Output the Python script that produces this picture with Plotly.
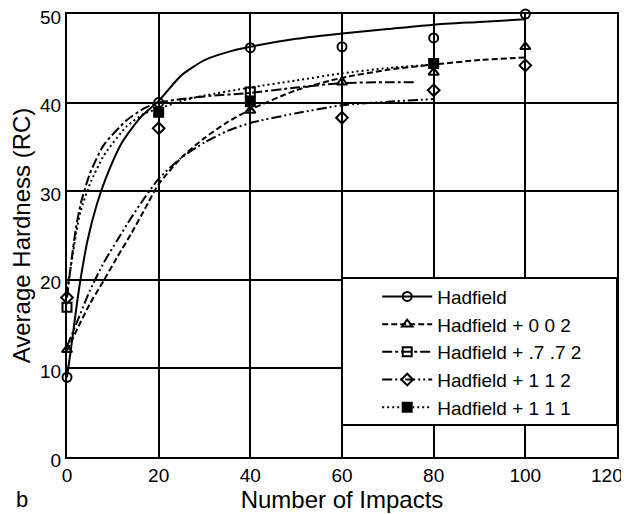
import plotly.graph_objects as go

# ---- data ----
series_names = ["Hadfield", "Hadfield + 0 0 2", "Hadfield + .7 .7 2", "Hadfield + 1 1 2", "Hadfield + 1 1 1"]

# measured points
had_x = [0, 20, 40, 60, 80, 100]
had_y = [9, 40, 46.2, 46.3, 47.3, 50]
s002_x = [0, 40, 60, 80, 100]
s002_y = [12.1, 39.1, 42.3, 43.4, 46.3]
s772_x = [0, 40]
s772_y = [16.9, 41.2]
s112_x = [0, 20, 60, 80, 100]
s112_y = [18, 37.1, 38.3, 41.4, 44.2]
s111_x = [20, 40, 80]
s111_y = [38.9, 40.1, 44.4]

# fitted curves
had_cx = [0, 1, 2, 3, 4.5, 6.5, 8.5, 12, 16, 20, 25, 30, 35, 40, 50, 60, 70, 80, 90, 100]
had_cy = [9, 12.7, 16.7, 20.2, 24.5, 28.5, 31.5, 35.5, 38.3, 40.2, 43.1, 44.8, 45.7, 46.3, 47.2, 47.8, 48.3, 48.8, 49.1, 49.4]
c002_x = [0, 2, 5, 8, 11, 14, 17, 20, 25, 30, 35, 40, 50, 60, 70, 80, 90, 100]
c002_y = [12, 14.2, 17.3, 19.9, 22.6, 25.2, 28, 30.8, 33.8, 36, 37.8, 39.2, 41.4, 42.8, 43.7, 44.3, 44.8, 45.1]
c772_x = [0, 1, 2, 3, 5, 8, 13, 17, 20, 25, 30, 40, 50, 60, 70, 76]
c772_y = [18, 22.3, 26, 28.6, 32, 35.2, 38, 39.4, 40, 40.4, 40.7, 41.1, 41.7, 42.2, 42.3, 42.3]
c112_x = [0, 2, 5, 8, 11, 14, 17, 20, 25, 30, 35, 40, 50, 60, 70, 80]
c112_y = [12.5, 15, 18.8, 21.9, 24.5, 27, 29.3, 31.4, 33.8, 35.5, 36.8, 37.7, 38.8, 39.7, 40.1, 40.4]
c111_x = [0, 1, 2, 3, 5, 8, 13, 17, 20, 25, 30, 40, 50, 60, 70, 80]
c111_y = [19, 22, 25.3, 27.8, 30.8, 34, 37.3, 38.8, 39.3, 40.2, 40.8, 41.7, 42.5, 43.3, 43.9, 44.3]

x_ticks = [0, 20, 40, 60, 80, 100, 120]
x_ticktext = ["0", "20", "40", "60", "80", "100", ""]   # last label drawn right-aligned below (window edge)
x_last_label = "120"
y_ticks = [0, 10, 20, 30, 40, 50]

styles = [
    dict(dash="solid", symbol="circle-open"),
    dict(dash="6px,3px", symbol="triangle-up-open"),
    dict(dash="10px,3px,3px,3px", symbol="square-open"),
    dict(dash="10px,3px,2px,3px,2px,3px", symbol="diamond-open"),
    dict(dash="2px,3px", symbol="square"),
]
curves = [(had_cx, had_cy), (c002_x, c002_y), (c772_x, c772_y), (c112_x, c112_y), (c111_x, c111_y)]
points = [(had_x, had_y), (s002_x, s002_y), (s772_x, s772_y), (s112_x, s112_y), (s111_x, s111_y)]

FONT = "Liberation Sans, Arial, Helvetica, sans-serif"
fig = go.Figure()
for i, name in enumerate(series_names):
    st = styles[i]
    cx, cy = curves[i]
    px_, py_ = points[i]
    fig.add_trace(go.Scatter(x=cx, y=cy, mode="lines", line=dict(color="black", width=2, dash=st["dash"], shape="spline", smoothing=0.6),
                             showlegend=False, legendgroup=f"g{i}", hoverinfo="skip"))
    fig.add_trace(go.Scatter(x=px_, y=py_, mode="markers", cliponaxis=False,
                             marker=dict(symbol=st["symbol"], size=9, color="black", line=dict(color="black", width=2)),
                             showlegend=False, legendgroup=f"g{i}"))
    fig.add_trace(go.Scatter(x=[None], y=[None], mode="lines+markers", name=name, legendgroup=f"g{i}",
                             line=dict(color="black", width=2, dash=st["dash"]),
                             marker=dict(symbol=st["symbol"], size=9, color="black", line=dict(color="black", width=2))))

fig.add_shape(type="rect", xref="x", yref="y", x0=60, x1=120, y0=3.6, y1=20.2,
              fillcolor="white", line=dict(color="black", width=2), layer="above")

fig.add_annotation(text=x_last_label, xref="x", yref="y", x=x_ticks[-1], y=0, xanchor="right", yanchor="middle",
                   xshift=8, yshift=-18, showarrow=False, font=dict(family=FONT, size=19, color="black"))

fig.add_annotation(text="b", xref="paper", yref="paper", x=-0.082, y=-0.128, xanchor="center", yanchor="bottom",
                   showarrow=False, font=dict(family=FONT, size=22, color="black"))

# the page body has an 8px margin, so the figure is sized/offset to fit the 629x514 window
fig.update_layout(
    width=621, height=506,
    margin=dict(l=59, r=12, t=6, b=57),
    paper_bgcolor="white", plot_bgcolor="white",
    font=dict(family=FONT, color="black"),
    legend=dict(x=0.564, y=0.405, xanchor="left", yanchor="top", bgcolor="rgba(0,0,0,0)", borderwidth=0,
                font=dict(family=FONT, size=19, color="black"), itemwidth=50, tracegroupgap=3,
                traceorder="normal"),
    xaxis=dict(range=[0, 120], tickvals=x_ticks, ticktext=x_ticktext, showgrid=True, gridcolor="black", gridwidth=2,
               showline=True, linecolor="black", linewidth=2, mirror=True, zeroline=False, ticks="", automargin=False,
               tickfont=dict(family=FONT, size=19, color="black"),
               title=dict(text="Number of Impacts", font=dict(family=FONT, size=24, color="black"), standoff=2)),
    yaxis=dict(range=[0, 50], tickvals=y_ticks, ticktext=[str(v) for v in y_ticks], showgrid=True, gridcolor="black", gridwidth=2,
               showline=True, linecolor="black", linewidth=2, mirror=True, zeroline=False, ticks="", automargin=False,
               ticklabeloverflow="allow", ticklabelshift=3,
               tickfont=dict(family=FONT, size=19, color="black"),
               title=dict(text="Average Hardness (RC)", font=dict(family=FONT, size=24, color="black"), standoff=6)),
)

fig.write_html("out.html")
